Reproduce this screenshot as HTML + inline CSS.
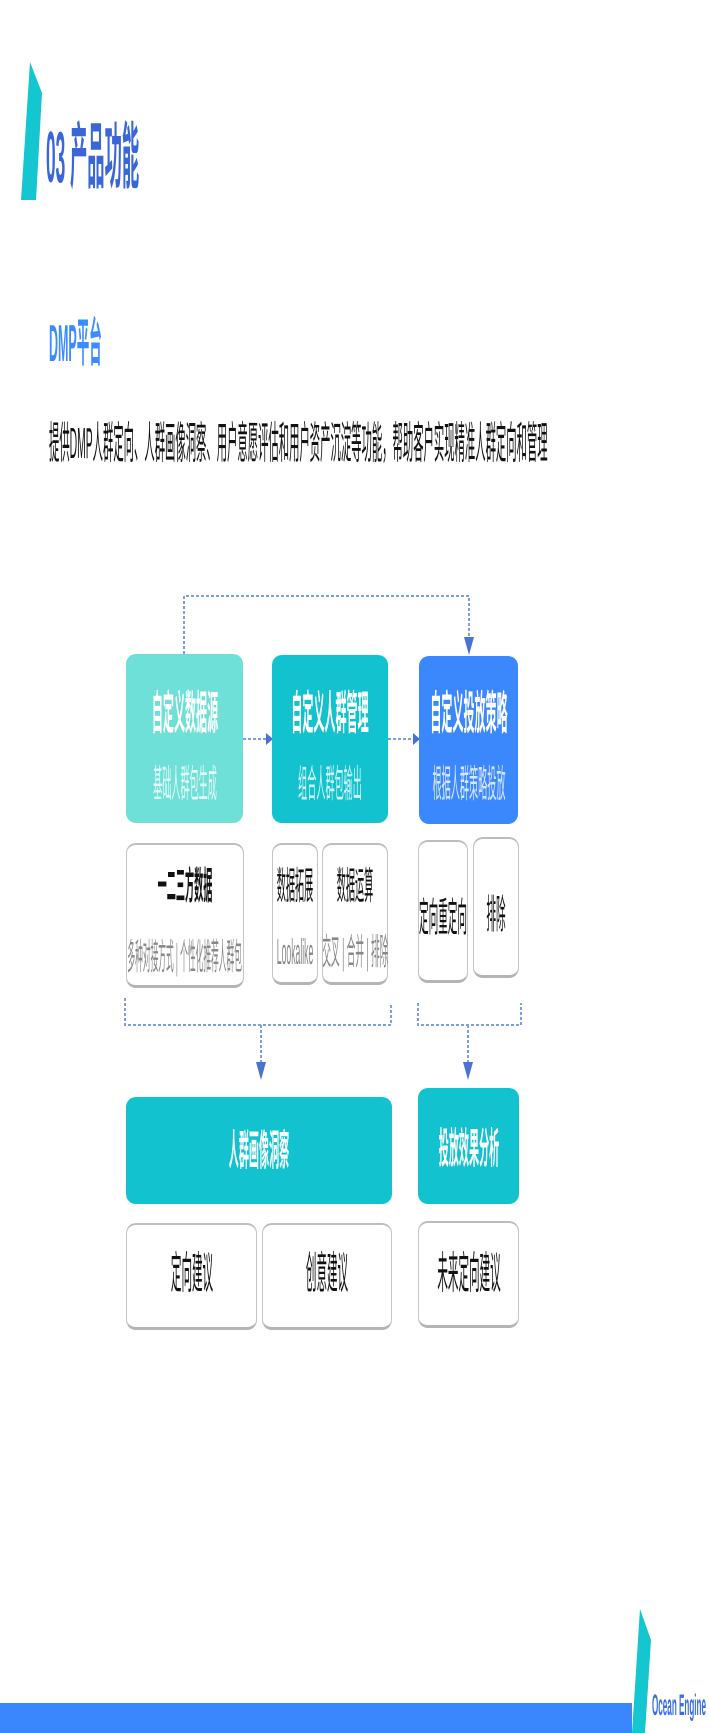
<!DOCTYPE html>
<html><head><meta charset="utf-8">
<style>
html,body{margin:0;padding:0;background:#fff;}
body{width:710px;height:1733px;position:relative;overflow:hidden;font-family:"Liberation Sans","Noto Sans CJK SC",sans-serif;}
.t{position:absolute;display:flex;align-items:center;justify-content:center;white-space:nowrap;}
.t span{flex-shrink:0;display:inline-block;transform:scaleX(0.24);transform-origin:center;line-height:1;}
.l{justify-content:flex-start;}
.l span{transform-origin:left center;}
.box{position:absolute;border-radius:10px;box-sizing:border-box;}
.w{background:#fff;border:1.5px solid #c4c4c4;border-bottom:3px solid #b4b4b4;border-top:2.5px solid #bdbdbd;}
</style></head><body>
<svg width="710" height="1733" style="position:absolute;left:0;top:0">
<polygon points="30,62 42,93 36,200 21,200" fill="#13c6cf"/>
<rect x="0" y="1703" width="632" height="30" fill="#3a86fc"/>
<polygon points="640,1609 651,1640 645,1733 632,1733" fill="#13c6cf"/>
<g stroke="#7d9ee0" stroke-width="2" fill="none" stroke-dasharray="3,2">
<polyline points="184,654 184,596 469,596 469,640"/>
<line x1="243" y1="739" x2="266" y2="739"/>
<line x1="388" y1="739" x2="413" y2="739"/>
<polyline points="125,998 125,1025 391,1025 391,1003"/>
<line x1="261" y1="1025" x2="261" y2="1064"/>
<polyline points="418,1003 418,1025 521,1025 521,1003"/>
<line x1="468" y1="1025" x2="468" y2="1064"/>
</g>
<g fill="#4a72d4">
<polygon points="464,637 474,637 469,655"/>
<polygon points="266,733 266,745 273,739"/>
<polygon points="413,733 413,745 420,739"/>
<polygon points="256,1062 266,1062 261,1080"/>
<polygon points="463,1062 473,1062 468,1080"/>
</g>
</svg>

<div class="t l" style="left:46px;top:120px;height:75px;width:600px"><span style="font-size:72px;font-weight:bold;color:#3a66d8">03 产品功能</span></div>
<div class="t l" style="left:49px;top:318px;height:52px;width:600px"><span style="font-size:52px;font-weight:bold;color:#3b8cff">DMP平台</span></div>
<div class="t l" style="left:49px;top:422px;height:44px;width:700px"><span style="font-size:44px;color:#111;transform:scaleX(0.235)">提供DMP人群定向、人群画像洞察、用户意愿评估和用户资产沉淀等功能，帮助客户实现精准人群定向和管理</span></div>

<div class="box" style="left:126px;top:654px;width:117px;height:169px;background:#6fe0d8"></div>
<div class="box" style="left:272px;top:655px;width:116px;height:168px;background:#13c2cf"></div>
<div class="box" style="left:419px;top:656px;width:99px;height:168px;background:#3a88fc"></div>
<div class="t" style="left:126px;top:690px;width:117px;height:46px"><span style="font-size:46px;font-weight:bold;color:#fff">自定义数据源</span></div>
<div class="t" style="left:272px;top:690px;width:116px;height:46px"><span style="font-size:46px;font-weight:bold;color:#fff">自定义人群管理</span></div>
<div class="t" style="left:419px;top:690px;width:99px;height:46px"><span style="font-size:46px;font-weight:bold;color:#fff">自定义投放策略</span></div>
<div class="t" style="left:126px;top:766px;width:117px;height:38px"><span style="font-size:38px;color:rgba(255,255,255,0.8)">基础人群包生成</span></div>
<div class="t" style="left:272px;top:766px;width:116px;height:38px"><span style="font-size:38px;color:rgba(255,255,255,0.8)">组合人群包输出</span></div>
<div class="t" style="left:419px;top:766px;width:99px;height:38px"><span style="font-size:38px;color:rgba(255,255,255,0.8)">根据人群策略投放</span></div>

<div class="box w" style="left:126px;top:843px;width:118px;height:145px"></div>
<div class="box w" style="left:272px;top:843px;width:46px;height:142px"></div>
<div class="box w" style="left:322px;top:843px;width:66px;height:142px"></div>
<div class="box w" style="left:418px;top:840px;width:50px;height:143px"></div>
<div class="box w" style="left:473px;top:837px;width:46px;height:141px"></div>
<div class="t" style="left:126px;top:868px;width:118px;height:38px"><span style="font-size:38px;font-weight:bold;color:#111">一二三方数据</span></div>
<div class="t" style="left:126px;top:939px;width:118px;height:36px"><span style="font-size:36px;color:#888;transform:scaleX(0.215)">多种对接方式 | 个性化推荐人群包</span></div>
<div class="t" style="left:272px;top:868px;width:46px;height:38px"><span style="font-size:38px;color:#111">数据拓展</span></div>
<div class="t" style="left:272px;top:934px;width:46px;height:36px"><span style="font-size:36px;color:#888">Lookalike</span></div>
<div class="t" style="left:322px;top:868px;width:66px;height:38px"><span style="font-size:38px;color:#111">数据运算</span></div>
<div class="t" style="left:322px;top:934px;width:66px;height:36px"><span style="font-size:36px;color:#888">交叉 | 合并 | 排除</span></div>
<div class="t" style="left:418px;top:898px;width:50px;height:40px"><span style="font-size:40px;color:#111">定向重定向</span></div>
<div class="t" style="left:473px;top:895px;width:46px;height:40px"><span style="font-size:40px;color:#111">排除</span></div>

<div class="box" style="left:126px;top:1097px;width:266px;height:107px;background:#13c2cf"></div>
<div class="box" style="left:418px;top:1088px;width:101px;height:116px;background:#13c2cf"></div>
<div class="t" style="left:126px;top:1130px;width:266px;height:42px"><span style="font-size:42px;font-weight:bold;color:#fff">人群画像洞察</span></div>
<div class="t" style="left:418px;top:1128px;width:101px;height:42px"><span style="font-size:42px;font-weight:bold;color:#fff">投放效果分析</span></div>

<div class="box w" style="left:126px;top:1223px;width:131px;height:107px"></div>
<div class="box w" style="left:262px;top:1223px;width:130px;height:107px"></div>
<div class="box w" style="left:418px;top:1221px;width:101px;height:107px"></div>
<div class="t" style="left:126px;top:1252px;width:131px;height:44px"><span style="font-size:44px;color:#111">定向建议</span></div>
<div class="t" style="left:262px;top:1252px;width:130px;height:44px"><span style="font-size:44px;color:#111">创意建议</span></div>
<div class="t" style="left:418px;top:1252px;width:101px;height:44px"><span style="font-size:44px;color:#111">未来定向建议</span></div>

<div class="t l" style="left:652px;top:1691px;width:100px;height:30px"><span style="font-size:30px;font-weight:bold;color:#3a6ee0;transform:scaleX(0.27)">Ocean Engine</span></div>
</body></html>
